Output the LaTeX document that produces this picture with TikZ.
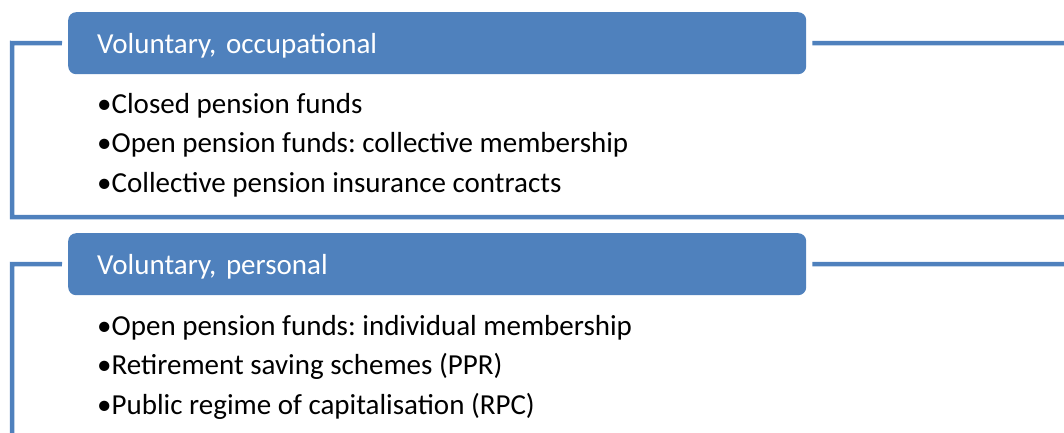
\documentclass[tikz,border=0pt]{standalone}
\usepackage{fontspec}
\setmainfont{Carlito}
\frenchspacing
\definecolor{boxblue}{HTML}{4F81BD}

\begin{document}
\begin{tikzpicture}[x=1pt,y=-1pt,
	hdr/.style={fill=boxblue, rounded corners=8pt, text=white, anchor=north west,
		minimum height=62pt, text width=680pt, inner xsep=29pt, align=left,
		text height=26pt, text depth=6pt, font=\fontsize{29}{34}\selectfont},
	frame/.style={draw=boxblue, line width=4.5pt},
	items/.style={anchor=base west, align=left, inner sep=0pt,
		font=\fontsize{29}{39.5}\selectfont}]
\useasboundingbox (0,0) rectangle (1064,432);
% first block
\node[hdr] (occ) at (68,12) {Voluntary, occupational};
\node[items] (occlist) at (97,192) {•Closed pension funds\\
	•Open pension funds: collective membership\\
	•Collective pension insurance contracts};
\coordinate (occL) at (12,43);
\coordinate (occB) at (12,217);
\coordinate (occR) at (1064,217);
\coordinate (occE) at (1064,43);
\draw[frame] ([xshift=-6pt]occ.west) -- (occL) -- (occB) -- (occR);
\draw[frame] ([xshift=6pt]occ.east) -- (occE);
% second block
\node[hdr] (pers) at (68,233) {Voluntary, personal};
\node[items] (perslist) at (97,414) {•Open pension funds: individual membership\\
	•Retirement saving schemes (PPR)\\
	•Public regime of capitalisation (RPC)};
\coordinate (persL) at (12,264);
\coordinate (persB) at (12,440);
\coordinate (persE) at (1064,264);
\draw[frame] ([xshift=-6pt]pers.west) -- (persL) -- (persB);
\draw[frame] ([xshift=6pt]pers.east) -- (persE);
\end{tikzpicture}
\end{document}
